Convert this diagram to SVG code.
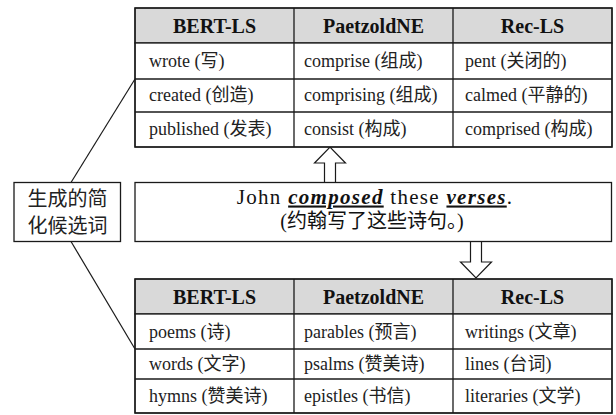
<svg xmlns="http://www.w3.org/2000/svg" width="616" height="415" viewBox="0 0 616 415">
<style>
  .frame { fill: #ffffff; stroke: #1a1a1a; stroke-width: 1.3; }
  .hdr { fill: #d9d9d9; stroke: #1a1a1a; stroke-width: 1.3; }
  .grid { stroke: #1a1a1a; stroke-width: 1.3; fill: none; }
  .th { font-size: 20px; font-weight: bold; fill: #111; text-anchor: middle; }
  .td { font-size: 18px; fill: #222; }
  .cjk { font-size: 20px; fill: #222; text-anchor: middle; }
  .sent { font-size: 20px; fill: #111; text-anchor: middle; }
  .sent1 { font-size: 21px; letter-spacing: 1.3px; }
  .em { font-weight: bold; font-style: italic; text-decoration: underline; }
  .conn { stroke: #1a1a1a; stroke-width: 1.2; fill: none; }
  .arrow { fill: #ffffff; stroke: #1a1a1a; stroke-width: 1.2; stroke-linejoin: miter; }
</style>

<g id="connectors">
  <line class="conn" x1="71" y1="182.5" x2="135" y2="79"/>
  <line class="conn" x1="71" y1="241.5" x2="135" y2="349"/>
  <polygon class="arrow" points="324.5,182.5 324.5,163 314.5,163 330,147 345.5,163 335.5,163 335.5,182.5"/>
  <polygon class="arrow" points="470.5,241.5 470.5,262 460.5,262 476,278 491.5,262 481.5,262 481.5,241.5"/>
</g>

<g id="top-table" font-family="Liberation Serif, Noto Sans CJK SC, serif">
  <rect class="hdr" x="135" y="8" width="477" height="35"/>
  <rect class="frame" x="135" y="43" width="477" height="104"/>
  <line class="grid" x1="135" y1="79" x2="612" y2="79"/>
  <line class="grid" x1="135" y1="112" x2="612" y2="112"/>
  <line class="grid" x1="294" y1="8" x2="294" y2="147"/>
  <line class="grid" x1="453" y1="8" x2="453" y2="147"/>
  <rect class="grid" x="135" y="8" width="477" height="139"/>
  <text class="th" x="214.5" y="33">BERT-LS</text>
  <text class="th" x="373.5" y="33">PaetzoldNE</text>
  <text class="th" x="532.5" y="33">Rec-LS</text>
  <text class="td" x="149" y="67">wrote (写)</text>
  <text class="td" x="304" y="67">comprise (组成)</text>
  <text class="td" x="465" y="67">pent (关闭的)</text>
  <text class="td" x="149" y="101">created (创造)</text>
  <text class="td" x="304" y="101">comprising (组成)</text>
  <text class="td" x="465" y="101">calmed (平静的)</text>
  <text class="td" x="149" y="135">published (发表)</text>
  <text class="td" x="304" y="135">consist (构成)</text>
  <text class="td" x="465" y="135">comprised (构成)</text>
</g>

<g id="left-box" font-family="Noto Sans CJK SC, sans-serif">
  <rect class="frame" x="14" y="182.5" width="106.5" height="59"/>
  <text class="cjk" x="67.5" y="206">生成的简</text>
  <text class="cjk" x="67.5" y="233">化候选词</text>
</g>

<g id="sentence-box" font-family="Liberation Serif, Noto Sans CJK SC, serif">
  <rect class="frame" x="135" y="182.5" width="476.5" height="59"/>
  <text class="sent sent1" x="375" y="203.5">John <tspan class="em">composed</tspan> these <tspan class="em">verses</tspan>.</text>
  <text class="sent" x="372" y="228">(约翰写了这些诗句。)</text>
</g>

<g id="bottom-table" font-family="Liberation Serif, Noto Sans CJK SC, serif">
  <rect class="hdr" x="135" y="279" width="477" height="35"/>
  <rect class="frame" x="135" y="314" width="477" height="99"/>
  <line class="grid" x1="135" y1="349" x2="612" y2="349"/>
  <line class="grid" x1="135" y1="379" x2="612" y2="379"/>
  <line class="grid" x1="294" y1="279" x2="294" y2="413"/>
  <line class="grid" x1="453" y1="279" x2="453" y2="413"/>
  <rect class="grid" x="135" y="279" width="477" height="134"/>
  <text class="th" x="214.5" y="303.5">BERT-LS</text>
  <text class="th" x="373.5" y="303.5">PaetzoldNE</text>
  <text class="th" x="532.5" y="303.5">Rec-LS</text>
  <text class="td" x="149" y="338">poems (诗)</text>
  <text class="td" x="304" y="338">parables (预言)</text>
  <text class="td" x="465" y="338">writings (文章)</text>
  <text class="td" x="149" y="370">words (文字)</text>
  <text class="td" x="304" y="370">psalms (赞美诗)</text>
  <text class="td" x="465" y="370">lines (台词)</text>
  <text class="td" x="149" y="402">hymns (赞美诗)</text>
  <text class="td" x="304" y="402">epistles (书信)</text>
  <text class="td" x="465" y="402">literaries (文学)</text>
</g>
</svg>
